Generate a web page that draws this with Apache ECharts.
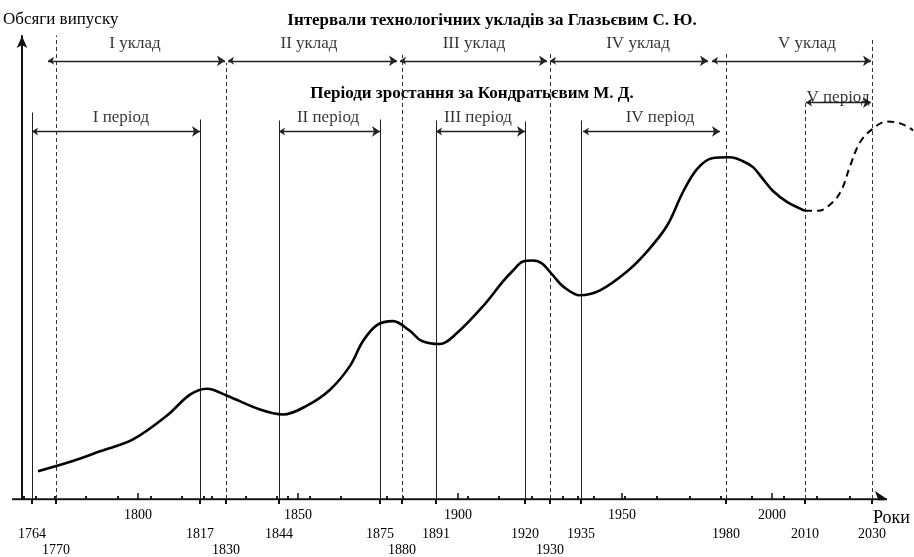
<!DOCTYPE html>
<html>
<head>
<meta charset="utf-8">
<script src="https://cdn.jsdelivr.net/npm/echarts@6/dist/echarts.min.js"></script>
<style>
  html, body { margin: 0; padding: 0; background: #fff; }
  #chart { width: 914px; height: 557px; }
</style>
</head>
<body>
<div id="chart"></div>
<script>
// x = position along the (schematic, non-linear) time axis, y = output volume, relative units
const curveSolid = [
  [16, 28], [50, 38], [78, 48], [111, 60], [145, 84], [168, 105], [185, 111], [205, 104],
  [238, 90], [261, 85], [285, 94], [308, 110], [328, 134], [341, 159], [355, 175], [371, 179],
  [387, 170], [400, 159], [418, 156], [435, 167], [461, 194], [481, 219], [491, 230], [501, 239],
  [511, 240], [520, 237], [531, 225], [541, 214], [558, 205], [578, 210], [605, 229], [625, 249],
  [645, 275], [661, 309], [675, 332], [690, 343], [708, 344], [721, 340], [731, 334], [741, 322],
  [751, 310], [765, 299], [783, 290]
]
const curveForecast = [
  [783, 290], [796, 290], [811, 299], [820, 312], [828, 335], [838, 359], [850, 372],
  [865, 380], [875, 379], [885, 375], [891, 371]
]

// years written under the time axis and where they sit on it; row = line of the label
const axisYears = [1764, 1770, 1800, 1817, 1830, 1844, 1850, 1875, 1880, 1891, 1900, 1920, 1930, 1935, 1950, 1980, 2000, 2010, 2030]
const axisPos   = [10, 34, 116, 178, 204, 257, 276, 358, 380, 414, 436, 503, 528, 559, 600, 704, 750, 783, 850]
const labelRow  = [2, 3, 1, 2, 3, 2, 1, 2, 3, 2, 1, 2, 3, 2, 1, 2, 1, 2, 2]

// Kondratiev periods (solid lines) and Glazyev structures (dashed lines), with line heights
const periodYears  = [1764, 1817, 1844, 1875, 1891, 1920, 1935]
const periodHeight = [389, 382, 381, 382, 381, 380, 381]
const ukladYears   = [1770, 1830, 1880, 1930, 1980, 2010, 2030]
const ukladHeight  = [467, 439, 447, 449, 449, 402, 464]

const ukladNames  = ['I уклад', 'II уклад', 'III уклад', 'IV уклад', 'V уклад']
const ukladFrom   = [26, 206, 378, 528, 690]
const ukladTo     = [203, 375, 525, 686, 849]
const periodNames = ['I період', 'II період', 'III період', 'IV період', 'V період']
const periodFrom  = [10, 257, 414, 561, 784]
const periodTo    = [178, 358, 503, 698, 849]

// small dots along the axis
const minorDots = [2, 14, 33, 64, 96, 129, 160, 182, 190, 224, 255, 266, 288, 319, 365, 381,
  446, 477, 510, 541, 556, 572, 603, 635, 668, 699, 730, 762, 795, 828]

const axisEnd = 865
const serif = "'Liberation Serif', 'Times New Roman', serif"
const pos = (year) => axisPos[axisYears.indexOf(year)]

const chart = echarts.init(document.getElementById('chart'), null, { renderer: 'canvas' })

const vLines = []
periodYears.forEach((y, i) => {
  vLines.push({ coords: [[pos(y), 0], [pos(y), periodHeight[i]]], lineStyle: { type: 'solid', color: '#222' } })
})
ukladYears.forEach((y, i) => {
  vLines.push({ coords: [[pos(y), 0], [pos(y), ukladHeight[i]]], lineStyle: { type: [4, 3], color: '#333' } })
})

const arrows = []
ukladNames.forEach((n, i) => arrows.push({ coords: [[ukladFrom[i], 441], [ukladTo[i], 441]] }))
periodNames.forEach((n, i) => {
  const lvl = i === 4 ? 399 : 370
  arrows.push({ coords: [[periodFrom[i], lvl], [periodTo[i], lvl]] })
})

const hiddenAxis = {
  type: 'value', min: -10, max: 891, position: 'bottom',
  splitLine: { show: false }, axisLine: { show: false }, axisLabel: { show: false }
}

chart.setOption({
  animation: false,
  backgroundColor: '#fff',
  grid: { left: 12, right: 1, top: 36, bottom: 55 },
  xAxis: [
    {
      type: 'value', min: -10, max: 891,
      splitLine: { show: false },
      axisLine: { show: false },
      axisTick: {
        show: true,
        customValues: axisPos.filter((p, i) => labelRow[i] !== 1),
        length: 5, lineStyle: { color: '#111', width: 2 }
      },
      axisLabel: {
        customValues: axisPos,
        margin: 9,
        color: '#000', fontFamily: serif, fontSize: 14,
        formatter: (v) => {
          const i = axisPos.indexOf(v)
          return i < 0 ? '' : '{r' + labelRow[i] + '|' + axisYears[i] + '}'
        },
        rich: {
          r1: { fontFamily: serif, fontSize: 14, color: '#000' },
          r2: { fontFamily: serif, fontSize: 14, color: '#000', padding: [19, 0, 0, 0] },
          r3: { fontFamily: serif, fontSize: 14, color: '#000', padding: [35, 0, 0, 0] }
        }
      }
    },
    Object.assign({}, hiddenAxis, {
      axisTick: {
        show: true, inside: true, length: 6,
        customValues: axisPos.filter((p, i) => labelRow[i] === 1),
        lineStyle: { color: '#111', width: 1.5 }
      }
    }),
    Object.assign({}, hiddenAxis, {
      axisTick: { show: true, inside: true, length: 3, customValues: minorDots, lineStyle: { color: '#222', width: 2 } }
    })
  ],
  yAxis: {
    type: 'value', min: 0, max: 466,
    splitLine: { show: false },
    axisTick: { show: false }, axisLabel: { show: false },
    axisLine: { onZero: true, lineStyle: { color: '#111', width: 2 }, symbol: ['none', 'arrow'], symbolSize: [8, 12] }
  },
  graphic: [
    { type: 'text', left: 3, top: 11, style: { text: 'Обсяги випуску', font: '17px ' + serif, fill: '#000' } },
    { type: 'text', x: 492, y: 21, style: { text: 'Інтервали технологічних укладів за Глазьєвим С. Ю.', font: 'bold 17px ' + serif, fill: '#000', align: 'center', verticalAlign: 'middle' } },
    { type: 'text', x: 472, y: 94, style: { text: 'Періоди зростання за Кондратьєвим М. Д.', font: 'bold 17px ' + serif, fill: '#000', align: 'center', verticalAlign: 'middle' } },
    { type: 'text', x: 873, y: 518, style: { text: 'Роки', font: '18px ' + serif, fill: '#000', verticalAlign: 'middle' } }
  ],
  series: [
    {
      // time axis line with its arrow
      type: 'lines', coordinateSystem: 'cartesian2d', silent: true,
      symbol: ['none', 'arrow'], symbolSize: [9, 12],
      lineStyle: { width: 2.5, color: '#111', opacity: 1 },
      data: [{ coords: [[-10, 0], [axisEnd, 0]] }]
    },
    {
      type: 'lines', coordinateSystem: 'cartesian2d', silent: true,
      lineStyle: { width: 1, opacity: 1 },
      data: vLines
    },
    {
      type: 'lines', coordinateSystem: 'cartesian2d', silent: true,
      symbol: ['arrow', 'arrow'], symbolSize: [6, 8],
      lineStyle: { width: 1.3, color: '#222', opacity: 1 },
      data: arrows
    },
    {
      type: 'scatter', symbolSize: 0, silent: true,
      label: { show: true, position: 'inside', formatter: '{b}', fontFamily: serif, fontSize: 17, color: '#000' },
      data: [
        { name: ukladNames[0], value: [113, 458] },
        { name: ukladNames[1], value: [287, 458] },
        { name: ukladNames[2], value: [452, 458] },
        { name: ukladNames[3], value: [616, 458] },
        { name: ukladNames[4], value: [785, 458] },
        { name: periodNames[0], value: [99, 384] },
        { name: periodNames[1], value: [306, 384] },
        { name: periodNames[2], value: [456, 384] },
        { name: periodNames[3], value: [638, 384] },
        { name: periodNames[4], value: [816, 404] }
      ]
    },
    {
      type: 'line', data: curveSolid, smooth: 0.35, symbol: 'none', silent: true,
      lineStyle: { color: '#000', width: 2.6 }
    },
    {
      type: 'line', data: curveForecast, smooth: 0.35, symbol: 'none', silent: true,
      lineStyle: { color: '#000', width: 2, type: [7, 5] }
    }
  ]
})
</script>
</body>
</html>
